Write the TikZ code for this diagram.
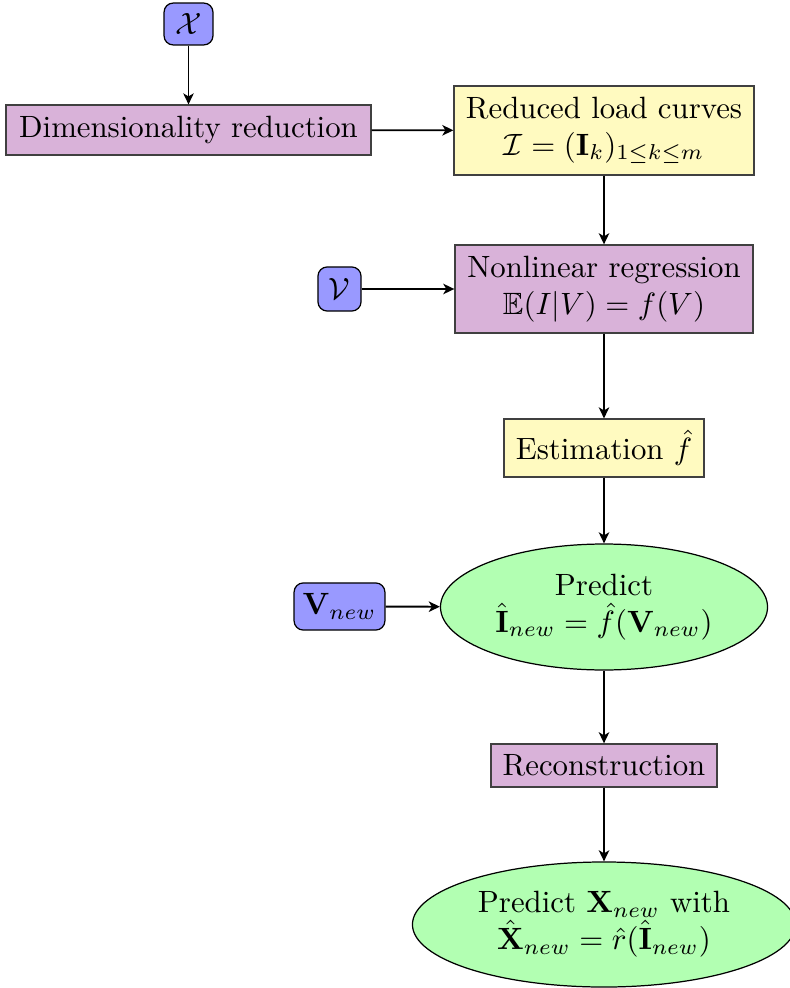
\documentclass[tikz,border=0pt]{standalone}
\usepackage{amsmath,amssymb}
\usetikzlibrary{shapes.geometric,arrows.meta}
\definecolor{cblue}{RGB}{153,153,255}
\definecolor{cviolet}{RGB}{217,178,217}
\definecolor{cyellow}{RGB}{255,250,192}
\definecolor{cgreen}{RGB}{178,255,178}
\tikzset{
  base/.style={inner sep=0pt, align=center, font=\normalsize},
  inbox/.style={base, draw=black, fill=cblue, rounded corners=3pt},
  procbox/.style={base, draw=black!75, fill=cviolet},
  databox/.style={base, draw=black!75, fill=cyellow},
  predell/.style={base, ellipse, draw=black, fill=cgreen},
  conn/.style={semithick, -{Stealth[length=3.6pt,width=3.4pt,inset=1pt]}}
}
\begin{document}
\begin{tikzpicture}[x=0.3247pt,y=-0.3247pt]
\useasboundingbox (0,0) rectangle (789,988);
\node[inbox, minimum width=15.9pt, minimum height=13.6pt] (X) at (188.5,24) {$\mathcal{X}$};
\node[procbox, minimum width=118.5pt, minimum height=16.2pt] (dim) at (188.5,130) {Dimensionality reduction};
\node[databox, minimum width=97.4pt, minimum height=28.9pt] (red) at (604,130.5) {Reduced load curves\\$\mathcal{I} = (\mathbf{I}_k)_{1\leq k\leq m}$};
\node[procbox, minimum width=96.8pt, minimum height=28.6pt] (nlr) at (604,289) {Nonlinear regression\\$\mathbb{E}(I|V) = f(V)$};
\node[inbox, minimum width=14pt, minimum height=14.3pt] (V) at (339.5,289) {$\mathcal{V}$};
\node[databox, minimum width=64.9pt, minimum height=18.8pt] (est) at (604,448) {Estimation $\hat{f}$};
\node[predell, minimum width=106.2pt, minimum height=40.9pt] (pred) at (604,607) {Predict\\$\hat{\mathbf{I}}_{new} = \hat{f}(\mathbf{V}_{new})$};
\node[inbox, minimum width=29.5pt, minimum height=15.3pt] (Vnew) at (339.5,606.5) {$\mathbf{V}_{new}$};
\node[procbox, minimum width=73.4pt, minimum height=14pt] (rec) at (604,765.5) {Reconstruction};
\node[predell, minimum width=124.4pt, minimum height=40.6pt] (fin) at (604,924.5) {Predict $\mathbf{X}_{new}$ with\\$\hat{\mathbf{X}}_{new} = \hat{r}(\hat{\mathbf{I}}_{new})$};
\draw[conn] (X) -- (dim);
\draw[conn] (dim) -- (red);
\draw[conn] (red) -- (nlr);
\draw[conn] (V) -- (nlr);
\draw[conn] (nlr) -- (est);
\draw[conn] (est) -- (pred);
\draw[conn] (Vnew) -- (pred);
\draw[conn] (pred) -- (rec);
\draw[conn] (rec) -- (fin);
\end{tikzpicture}
\end{document}
